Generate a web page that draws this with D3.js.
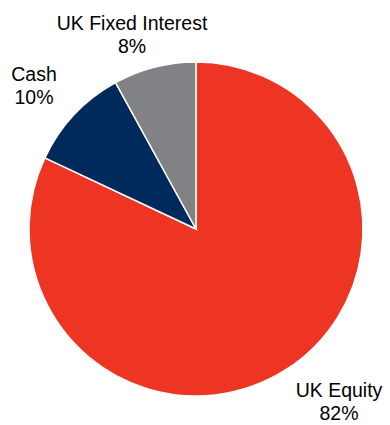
<!DOCTYPE html>
<html>
<head>
<meta charset="utf-8">
<script src="https://cdn.jsdelivr.net/npm/d3@7"></script>
<style>
  body { margin: 0; background: #fff; }
  svg { display: block; }
</style>
</head>
<body>
<div id="chart"></div>
<script>
// data
const categories = ["UK Equity", "Cash", "UK Fixed Interest"];
const values = [82, 10, 8];
const valueLabels = ["82%", "10%", "8%"];
const colors = ["#ee3524", "#002a5c", "#808285"];

const width = 390, height = 425;
const cx = 196, cy = 229, radius = 167;

const svg = d3.select("#chart").append("svg")
    .attr("width", width)
    .attr("height", height);

const data = categories.map((c, i) => ({ name: c, value: values[i], label: valueLabels[i], color: colors[i] }));

const pie = d3.pie().sort(null).value(d => d.value);
const arc = d3.arc().innerRadius(0).outerRadius(radius);

const g = svg.append("g").attr("transform", `translate(${cx},${cy})`);

g.selectAll("path.slice")
    .data(pie(data))
    .join("path")
    .attr("class", "slice")
    .attr("d", arc)
    .attr("fill", d => d.data.color)
    .attr("stroke", "#fff")
    .attr("stroke-width", 1.5);

// labels sit outside the pie, placed like the original
const labelPos = {
    "UK Equity": [339, 397],
    "Cash": [34, 81],
    "UK Fixed Interest": [132, 30]
};

const labels = svg.selectAll("text.label")
    .data(data)
    .join("text")
    .attr("class", "label")
    .attr("text-anchor", "middle")
    .style("font-family", "'Liberation Sans', Arial, sans-serif")
    .style("font-size", "19.5px")
    .style("fill", "#000");

labels.append("tspan")
    .attr("x", d => labelPos[d.name][0])
    .attr("y", d => labelPos[d.name][1])
    .text(d => d.name);

labels.append("tspan")
    .attr("x", d => labelPos[d.name][0])
    .attr("y", d => labelPos[d.name][1] + 23)
    .text(d => d.label);
</script>
</body>
</html>
